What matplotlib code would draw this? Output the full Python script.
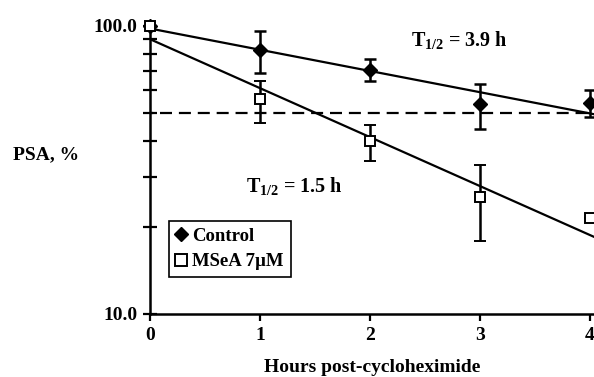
import matplotlib
matplotlib.use("Agg")
import matplotlib.pyplot as plt
from matplotlib.lines import Line2D
from matplotlib.ticker import FixedLocator, NullFormatter, FuncFormatter

# data
hours = [0, 1, 2, 3, 4]
control = [100.0, 82.5, 70.3, 53.6, 54.0]
control_lo = [0.0, 13.8, 5.9, 9.7, 5.7]
control_hi = [0.0, 13.5, 6.5, 9.3, 6.0]
msea = [100.0, 55.8, 39.9, 25.5, 21.5]
msea_lo = [0.0, 9.7, 5.9, 7.6, 0.0]
msea_hi = [0.0, 8.6, 5.4, 7.4, 0.0]

fit_x = [0, 4.1]
control_fit = [98.0, 48.9]
msea_fit = [90.0, 18.1]
half_level = 50.0

plt.rcParams["font.family"] = ["Liberation Serif", "DejaVu Serif"]
plt.rcParams["font.weight"] = "bold"
plt.rcParams["mathtext.fontset"] = "custom"
plt.rcParams["mathtext.rm"] = "Liberation Serif:bold"
plt.rcParams["mathtext.bf"] = "Liberation Serif:bold"
plt.rcParams["mathtext.it"] = "Liberation Serif:bold"

fig = plt.figure(figsize=(5.94, 3.77), dpi=100)
ax = fig.add_axes([150 / 594, 1 - 314 / 377, 444 / 594, 288 / 377])

# fitted decay lines and 50% reference
ax.plot(fit_x, control_fit, color="black", lw=1.6)
ax.plot(fit_x, msea_fit, color="black", lw=1.6)
ax.axhline(half_level, color="black", lw=1.6, ls=(4, (5.4, 3.1)))

ax.errorbar(hours, control, yerr=[control_lo, control_hi], fmt="D", color="black",
            ms=7, mfc="black", mec="black", ecolor="black", elinewidth=1.8,
            capsize=4, capthick=1.8, clip_on=False, zorder=3)
ax.errorbar(hours, msea, yerr=[msea_lo, msea_hi], fmt="s", color="black",
            ms=7.5, mfc="white", mec="black", mew=1.4, ecolor="black", elinewidth=1.8,
            capsize=4, capthick=1.8, clip_on=False, zorder=4)

ax.set_yscale("log")
ax.set_ylim(10, 100)
ax.set_xlim(0, 4.04)

ax.yaxis.set_major_locator(FixedLocator([10, 100]))
ax.yaxis.set_major_formatter(FuncFormatter(lambda v, p: f"{v:.1f}"))
ax.yaxis.set_minor_locator(FixedLocator([20, 30, 40, 50, 60, 70, 80, 90]))
ax.yaxis.set_minor_formatter(NullFormatter())
ax.set_xticks(hours)

ax.tick_params(axis="y", which="both", direction="inout", length=10, width=1.6,
               labelsize=14, pad=4)
ax.tick_params(axis="x", direction="out", length=5, width=1.6, labelsize=14, pad=4)

for side in ["top", "right"]:
    ax.spines[side].set_visible(False)
for side in ["left", "bottom"]:
    ax.spines[side].set_linewidth(1.8)

ax.set_xlabel("Hours post-cycloheximide", fontsize=14, fontweight="bold", labelpad=11)
fig.text(46 / 594, 1 - 155 / 377, "PSA, %", fontsize=14, fontweight="bold",
         ha="center", va="center")

ax.text(459 / 594, 1 - 40 / 377, r"T$_\mathrm{1/2}$ = 3.9 h", transform=fig.transFigure,
        fontsize=14.5, ha="center", va="center")
ax.text(294 / 594, 1 - 186 / 377, r"T$_\mathrm{1/2}$ = 1.5 h", transform=fig.transFigure,
        fontsize=14.5, ha="center", va="center")

handles = [
    Line2D([], [], ls="none", marker="D", ms=7, mfc="black", mec="black"),
    Line2D([], [], ls="none", marker="s", ms=8, mfc="white", mec="black", mew=1.4),
]
leg = ax.legend(handles, ["Control", "MSeA 7\u00b5M"], loc="upper left",
                bbox_to_anchor=(169 / 594, 1 - 221 / 377),
                bbox_transform=fig.transFigure, fontsize=13.5, frameon=True,
                fancybox=False, handlelength=0.6, handletextpad=0.3,
                borderpad=0.35, labelspacing=0.45, borderaxespad=0)
leg.get_frame().set_edgecolor("black")
leg.get_frame().set_linewidth(1.2)
leg.get_frame().set_alpha(1)

fig.savefig("out.png", dpi=100)
